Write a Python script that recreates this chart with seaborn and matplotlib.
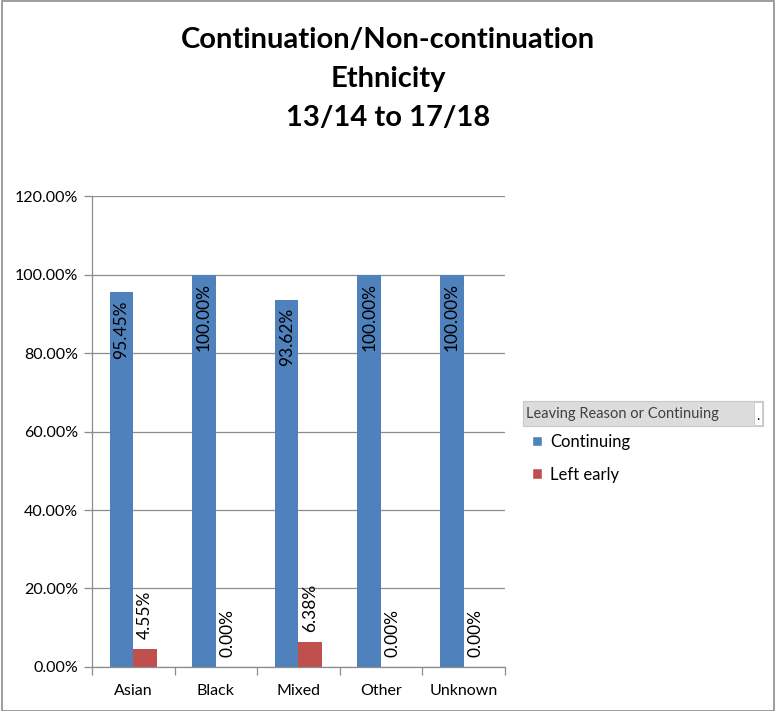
import seaborn as sns
import matplotlib
import matplotlib.pyplot as plt
import pandas as pd
from matplotlib.patches import Rectangle, Patch
from matplotlib.ticker import FuncFormatter, MultipleLocator
matplotlib.use('Agg')

# Data
ethnicities = ['Asian', 'Black', 'Mixed', 'Other', 'Unknown']
continuing = [95.45, 100.00, 93.62, 100.00, 100.00]
left_early = [4.55, 0.00, 6.38, 0.00, 0.00]
series_names = ['Continuing', 'Left early']
colours = ['#4F81BD', '#C0504D']

df = pd.DataFrame({
    'Ethnicity': ethnicities * 2,
    'Series': [series_names[0]] * len(ethnicities) + [series_names[1]] * len(ethnicities),
    'Value': continuing + left_early,
})

sns.set_style("white")
plt.rcParams['font.family'] = ['Lato', 'DejaVu Sans']
plt.rcParams['text.color'] = 'black'

fig = plt.figure(figsize=(7.76, 7.11), dpi=100)
ax = fig.add_axes([0.1186, 0.0619, 0.532, 0.6624])

sns.barplot(data=df, x='Ethnicity', y='Value', hue='Series', palette=colours,
            width=0.57, ax=ax, legend=False, saturation=1, linewidth=0)

ax.set_ylim(0, 120)
ax.set_xlim(-0.5, len(ethnicities) - 0.5)
ax.yaxis.set_major_locator(MultipleLocator(20))
ax.yaxis.set_major_formatter(FuncFormatter(lambda v, p: f'{v:.2f}%'))
ax.grid(axis='y', color='#8c8c8c', linewidth=0.9)
ax.set_axisbelow(True)
ax.set_xlabel('')
ax.set_ylabel('')

for s in ['top', 'right']:
    ax.spines[s].set_visible(False)
for s in ['left', 'bottom']:
    ax.spines[s].set_color('#8c8c8c')
    ax.spines[s].set_linewidth(0.9)

# tick marks: y ticks outside, x ticks at category boundaries
ax.tick_params(axis='y', which='major', left=True, length=6, width=0.9, color='#8c8c8c',
               labelsize=11.5, pad=4, labelcolor='black')
ax.set_xticks(range(len(ethnicities)))
ax.set_xticklabels(ethnicities)
ax.tick_params(axis='x', which='major', bottom=False, labelsize=11.5, pad=9, labelcolor='black')
ax.set_xticks([i - 0.5 for i in range(len(ethnicities) + 1)], minor=True)
ax.tick_params(axis='x', which='minor', bottom=True, length=6, width=0.9, color='#8c8c8c')

# data labels: inside end for Continuing, outside end for Left early
for i, cont in enumerate(ax.containers):
    for bar in cont:
        v = bar.get_height()
        xc = bar.get_x() + bar.get_width() / 2
        if i == 0:
            ax.annotate(f'{v:.2f}%', (xc, v), xytext=(0, -6), textcoords='offset points',
                        rotation=90, ha='center', va='top', fontsize=12.5)
        else:
            ax.annotate(f'{v:.2f}%', (xc, v), xytext=(0, 7), textcoords='offset points',
                        rotation=90, ha='center', va='bottom', fontsize=12.5)

# title
fig.text(0.5, 1 - 79 / 711, 'Continuation/Non-continuation\nEthnicity\n13/14 to 17/18',
         ha='center', va='center', fontsize=21, fontweight='bold', linespacing=1.62)

# legend with header bar
hdr = Rectangle((523 / 776, 1 - 426 / 711), 240 / 776, 25 / 711, transform=fig.transFigure,
                facecolor='#dcdcdc', edgecolor='#c8c8c8', linewidth=0.8)
fig.patches.append(hdr)
fig.patches.append(Rectangle((754 / 776, 1 - 425 / 711), 8 / 776, 23 / 711,
                             transform=fig.transFigure, facecolor='white',
                             edgecolor='#c8c8c8', linewidth=0.6))
fig.text(758 / 776, 1 - 416 / 711, '.', ha='center', va='center', fontsize=10, color='black')
fig.text(526 / 776, 1 - 414 / 711, 'Leaving Reason or Continuing', ha='left', va='center',
         fontsize=10.5, color='#404040')
handles = [Patch(facecolor=c, label=n) for c, n in zip(colours, series_names)]
fig.legend(handles=handles, loc='upper left', bbox_to_anchor=(527 / 776, 1 - 429 / 711),
           frameon=False, fontsize=12, handlelength=0.6, handleheight=0.6,
           handletextpad=0.5, labelspacing=1.0, borderaxespad=0, borderpad=0.3)

# outer chart border
fig.patches.append(Rectangle((0.002, 0.0), 0.996, 0.999, transform=fig.transFigure,
                             fill=False, edgecolor='#8c8c8c', linewidth=1.2))

plt.savefig('out.png', dpi=100)
plt.close()
